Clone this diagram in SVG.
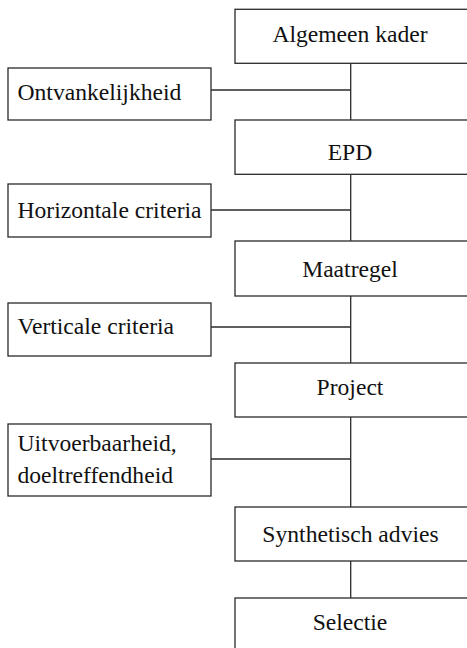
<svg xmlns="http://www.w3.org/2000/svg" width="467" height="648" viewBox="0 0 467 648">
<style>
rect{fill:#fff;stroke:#2a2a2a;stroke-width:1.3}
line{stroke:#2a2a2a;stroke-width:1.3}
text{font-family:"Liberation Serif","Times New Roman",serif;font-size:23.6px;fill:#111}
.c{text-anchor:middle}
</style>
<rect x="0" y="0" width="467" height="648" style="stroke:none"/>
<g id="connectors">
<line x1="350.7" y1="63.3" x2="350.7" y2="120"/>
<line x1="211" y1="90" x2="350.7" y2="90"/>
<line x1="350.7" y1="174.3" x2="350.7" y2="241"/>
<line x1="211" y1="210" x2="350.7" y2="210"/>
<line x1="350.7" y1="296" x2="350.7" y2="363"/>
<line x1="211" y1="327" x2="350.7" y2="327"/>
<line x1="350.7" y1="417" x2="350.7" y2="507"/>
<line x1="211" y1="459" x2="350.7" y2="459"/>
<line x1="350.7" y1="561" x2="350.7" y2="598"/>
</g>
<g id="algemeen-kader"><rect x="235" y="9.3" width="250" height="54"/><text class="c" x="350" y="42.3">Algemeen kader</text></g>
<g id="ontvankelijkheid"><rect x="8" y="68" width="203" height="52"/><text x="17.5" y="100">Ontvankelijkheid</text></g>
<g id="epd"><rect x="235" y="120" width="250" height="54.3"/><text class="c" x="350" y="160">EPD</text></g>
<g id="horizontale-criteria"><rect x="8" y="184" width="203" height="53"/><text x="17.5" y="217.7">Horizontale criteria</text></g>
<g id="maatregel"><rect x="235" y="241" width="250" height="55"/><text class="c" x="350" y="277">Maatregel</text></g>
<g id="verticale-criteria"><rect x="8" y="303" width="203" height="53"/><text x="17.5" y="334">Verticale criteria</text></g>
<g id="project"><rect x="235" y="363" width="250" height="54"/><text class="c" x="350" y="395">Project</text></g>
<g id="uitvoerbaarheid"><rect x="8" y="424" width="203" height="72"/><text x="17.5" y="451">Uitvoerbaarheid,</text><text x="17.5" y="482.5">doeltreffendheid</text></g>
<g id="synthetisch-advies"><rect x="235" y="507" width="250" height="54"/><text class="c" x="350.5" y="542">Synthetisch advies</text></g>
<g id="selectie"><rect x="235" y="598" width="250" height="80"/><text class="c" x="350" y="630">Selectie</text></g>
</svg>
